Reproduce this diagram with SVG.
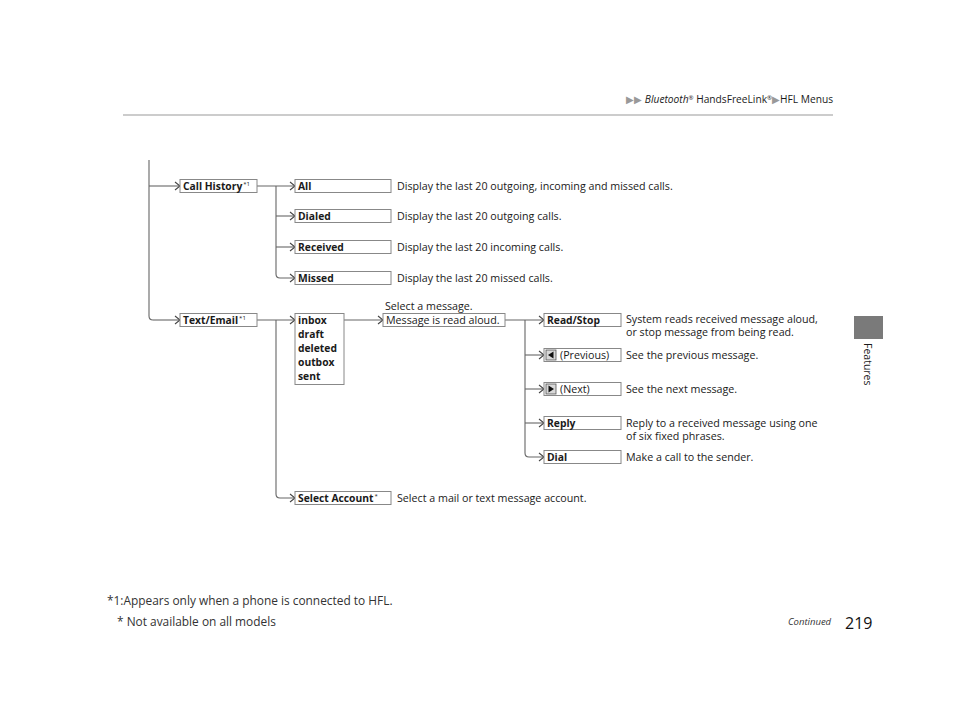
<svg xmlns="http://www.w3.org/2000/svg" width="960" height="722" viewBox="0 0 960 722">
<style>
text{font-family:"Open Sans","Noto Sans","Liberation Sans",sans-serif;fill:#1a1a1a;}
.b{font-size:10.3px;font-weight:bold;}
.r{font-size:10.7px;}
.sup{font-size:6px;font-weight:normal;}
.box{fill:#fff;stroke:#888;stroke-width:1;}
.ln{fill:none;stroke:#666;stroke-width:1.1;marker-end:url(#chev);}
.ln2{fill:none;stroke:#666;stroke-width:1.1;}
.tri{fill:#999;}
</style>
<defs>
<marker id="chev" markerUnits="userSpaceOnUse" markerWidth="10" markerHeight="10" viewBox="-6 -5 7 10" refX="0" refY="0" orient="auto">
<path d="M-5,-4 L0,0 L-5,4" fill="none" stroke="#444" stroke-width="1.1"/>
</marker>
</defs>
<rect width="960" height="722" fill="#fff"/>

<g id="header">
<line x1="123" y1="115" x2="833" y2="115" stroke="#999" stroke-width="1"/>
<text x="833" y="103" text-anchor="end" style="font-size:10.2px"><tspan class="tri">▶▶</tspan> <tspan font-style="italic">Bluetooth</tspan><tspan style="font-size:6px" dy="-3">®</tspan><tspan dy="3"> HandsFreeLink</tspan><tspan style="font-size:6px" dy="-3">®</tspan><tspan dy="3" class="tri">▶</tspan><tspan>HFL Menus</tspan></text>
</g>

<g id="tab">
<rect x="854" y="316" width="29" height="23" fill="#7a7a7a"/>
<text x="864" y="343" transform="rotate(90 864 343)" style="font-size:10.5px">Features</text>
</g>

<g id="connectors">
<path class="ln2" d="M149,160 V316 Q149,320 153,320"/>
<path class="ln" d="M149,186 H180"/>
<path class="ln" d="M153,320 H180"/>
<path class="ln" d="M257,186 H295"/>
<path class="ln" d="M276,216 H295"/>
<path class="ln" d="M276,247 H295"/>
<path class="ln" d="M276,186 V274 Q276,278 280,278 H295"/>
<path class="ln" d="M257,320 H295"/>
<path class="ln" d="M276,320 V494 Q276,498 280,498 H295"/>
<path class="ln" d="M344,320 H383"/>
<path class="ln" d="M505,320 H544"/>
<path class="ln" d="M525,355 H544"/>
<path class="ln" d="M525,389 H544"/>
<path class="ln" d="M525,423 H544"/>
<path class="ln" d="M525,320 V453 Q525,457 529,457 H544"/>
</g>

<g id="call-history">
<rect class="box" x="180" y="179.5" width="77" height="13"/>
<text class="b" x="183" y="190">Call History<tspan class="sup" dx="1" dy="-4">*1</tspan></text>
</g>
<g id="all">
<rect class="box" x="295" y="179.5" width="96" height="13"/>
<text class="b" x="298" y="190">All</text>
<text class="r" x="397" y="190">Display the last 20 outgoing, incoming and missed calls.</text>
</g>
<g id="dialed">
<rect class="box" x="295" y="209.5" width="96" height="13"/>
<text class="b" x="298" y="220">Dialed</text>
<text class="r" x="397" y="220">Display the last 20 outgoing calls.</text>
</g>
<g id="received">
<rect class="box" x="295" y="240.5" width="96" height="13"/>
<text class="b" x="298" y="251">Received</text>
<text class="r" x="397" y="251">Display the last 20 incoming calls.</text>
</g>
<g id="missed">
<rect class="box" x="295" y="271.5" width="96" height="13"/>
<text class="b" x="298" y="282">Missed</text>
<text class="r" x="397" y="282">Display the last 20 missed calls.</text>
</g>

<g id="text-email">
<rect class="box" x="180" y="313.5" width="77" height="13"/>
<text class="b" x="183" y="324">Text/Email<tspan class="sup" dx="1" dy="-4">*1</tspan></text>
</g>
<g id="folders">
<rect class="box" x="295" y="313.5" width="49" height="71"/>
<text class="b" x="298" y="324">inbox</text>
<text class="b" x="298" y="338">draft</text>
<text class="b" x="298" y="352">deleted</text>
<text class="b" x="298" y="366">outbox</text>
<text class="b" x="298" y="380">sent</text>
</g>
<g id="message">
<text class="r" x="385" y="310">Select a message.</text>
<rect class="box" x="383" y="313.5" width="122" height="13"/>
<text class="r" x="386" y="324">Message is read aloud.</text>
</g>
<g id="read-stop">
<rect class="box" x="544" y="313.5" width="77" height="13"/>
<text class="b" x="547" y="324">Read/Stop</text>
<text class="r" x="626" y="323">System reads received message aloud,</text>
<text class="r" x="626" y="336">or stop message from being read.</text>
</g>
<g id="previous">
<rect class="box" x="544" y="348.5" width="77" height="13"/>
<rect x="546" y="350" width="10" height="10" fill="#d8d8d8" stroke="#555" stroke-width="0.8"/>
<path d="M553.5,351.5 L548,355 L553.5,358.5 Z" fill="#111"/>
<text class="r" x="560" y="359">(Previous)</text>
<text class="r" x="626" y="359">See the previous message.</text>
</g>
<g id="next">
<rect class="box" x="544" y="382.5" width="77" height="13"/>
<rect x="546" y="384" width="10" height="10" fill="#d8d8d8" stroke="#555" stroke-width="0.8"/>
<path d="M548.5,385.5 L554,389 L548.5,392.5 Z" fill="#111"/>
<text class="r" x="560" y="393">(Next)</text>
<text class="r" x="626" y="393">See the next message.</text>
</g>
<g id="reply">
<rect class="box" x="544" y="416.5" width="77" height="13"/>
<text class="b" x="547" y="427">Reply</text>
<text class="r" x="626" y="427">Reply to a received message using one</text>
<text class="r" x="626" y="440">of six fixed phrases.</text>
</g>
<g id="dial">
<rect class="box" x="544" y="450.5" width="77" height="13"/>
<text class="b" x="547" y="461">Dial</text>
<text class="r" x="626" y="461">Make a call to the sender.</text>
</g>
<g id="select-account">
<rect class="box" x="295" y="491.5" width="96" height="13"/>
<text class="b" x="298" y="502">Select Account<tspan class="sup" dx="1" dy="-4">*</tspan></text>
<text class="r" x="397" y="502">Select a mail or text message account.</text>
</g>

<g id="footer">
<text x="107" y="605" style="font-size:11.9px;fill:#333">*1:Appears only when a phone is connected to HFL.</text>
<text x="117" y="626" style="font-size:11.9px;fill:#333">* Not available on all models</text>
<text x="788" y="625" style="font-size:9.5px;font-style:italic;fill:#333">Continued</text>
<text x="845" y="629" style="font-size:16px;fill:#111">219</text>
</g>
</svg>
